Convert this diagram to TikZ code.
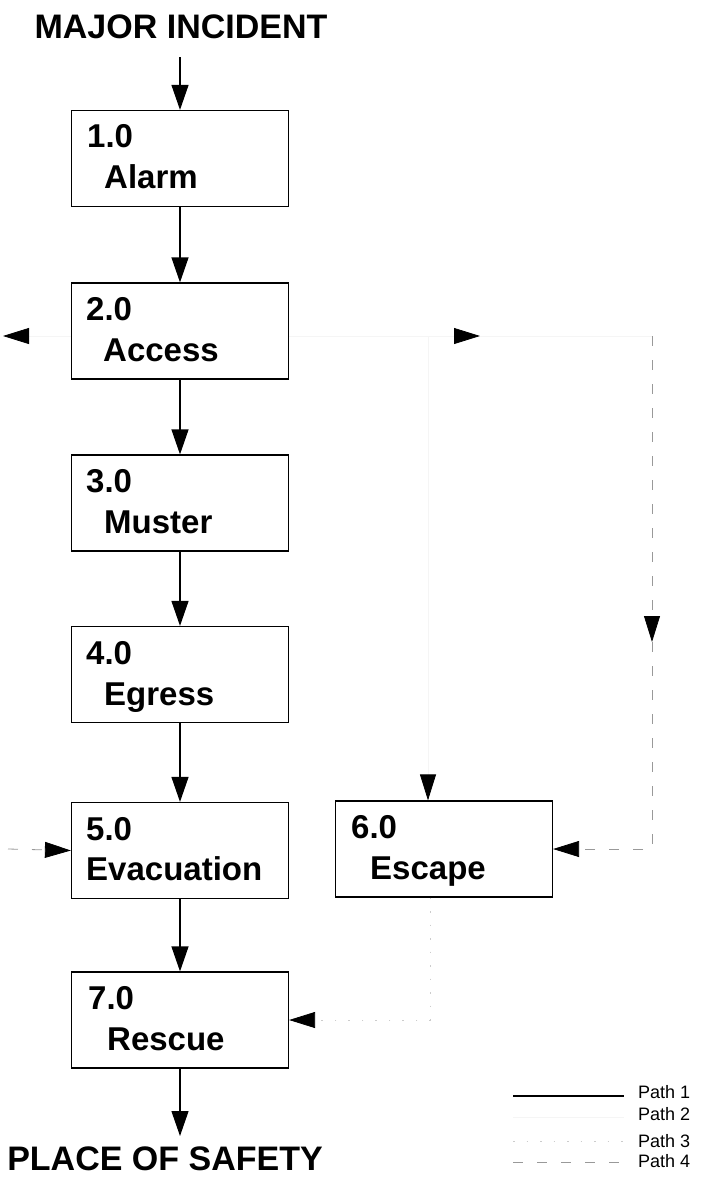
\documentclass[tikz,border=0pt]{standalone}
\usepackage{fontspec}
\setmainfont{Liberation Sans}
\usetikzlibrary{arrows.meta,calc}
\begin{document}
\begin{tikzpicture}[x=1pt,y=-1pt,
  box/.style={draw, line width=1.2pt, minimum width=217pt, minimum height=96pt, inner sep=0pt},
  num/.style={anchor=base west, inner sep=0pt, font=\bfseries\fontsize{33}{38}\selectfont},
  title/.style={anchor=base, inner sep=0pt, font=\bfseries\fontsize{34}{40}\selectfont},
  legtext/.style={anchor=base west, inner sep=0pt, font=\fontsize{18}{21}\selectfont},
  arr/.style={line width=1.2pt, -{Triangle[length=25pt,width=17pt]}},
  side/.style={-{Triangle[length=26pt,width=16pt,color=black]}},
  pathone/.style={draw=black, line width=1.2pt},
  pathtwo/.style={draw=black!4, line width=0.8pt},
  paththree/.style={draw=black!20, line width=0.8pt, dash pattern=on 1.5pt off 12pt},
  pathfour/.style={draw=black!40, line width=0.8pt, dash pattern=on 10pt off 14pt}]
\fill[white] (0,0) rectangle (713,1178);
\useasboundingbox (0,0) rectangle (713,1178);

% start and end of the sequence
\node[title] (mi) at (181,38) {MAJOR INCIDENT};
\node[title] (pos) at (165,1170) {PLACE OF SAFETY};
\coordinate (mistart) at (180,57);
\coordinate (posend) at (180,1136);

% stage boxes
\node[box] (b1) at (180,158.5) {};
\node[box] (b2) at (180,331) {};
\node[box] (b3) at (180,503) {};
\node[box] (b4) at (180,674.5) {};
\node[box] (b5) at (180,850.5) {};
\node[box] (b6) at (444,849) {};
\node[box] (b7) at (180,1020) {};

% box captions
\node[num] (n1) at (87,147) {1.0};   \node[num] (t1) at (104,188) {Alarm};
\node[num] (n2) at (86,320) {2.0};   \node[num] (t2) at (103,361) {Access};
\node[num] (n3) at (86,492) {3.0};   \node[num] (t3) at (104,533) {Muster};
\node[num] (n4) at (86,664) {4.0};   \node[num] (t4) at (104,705) {Egress};
\node[num] (n5) at (86,840) {5.0};   \node[num] (t5) at (86,880) {Evacuation};
\node[num] (n6) at (351,838) {6.0};  \node[num] (t6) at (370,879) {Escape};
\node[num] (n7) at (88,1009) {7.0};  \node[num] (t7) at (107,1050) {Rescue};

% path 1: main sequence
\draw[arr] (mistart) -- (b1.north);
\draw[arr] (b1.south) -- (b2.north);
\draw[arr] (b2.south) -- (b3.north);
\draw[arr] (b3.south) -- (b4.north);
\draw[arr] (b4.south) -- (b5.north);
\draw[arr] (b5.south) -- (b7.north);
\draw[arr] (b7.south) -- (posend);

% alternative paths
\coordinate (lft) at (3,336);
\coordinate (rmid) at (480,336);
\coordinate (rbr) at (428,336);
\coordinate (rcor) at (652,336);
\coordinate (rdn) at (652,642);
\coordinate (rlow) at (652,849);
\coordinate (lin) at (8,849);
\coordinate (bcor) at (430,1020);

\draw[pathtwo,side] ($(b2.west)+(0,5)$) -- (lft);
\draw[pathtwo,side] ($(b2.east)+(0,5)$) -- (rmid);
\draw[pathtwo] (rmid) -- (rcor);
\draw[pathtwo,side] (rbr) -- ($(b6.north)+(-16,0)$);
\draw[pathfour,side] (rcor) -- (rdn);
\draw[pathfour,side] (rdn) -- (rlow) -- (b6.east);
\draw[pathfour,side] (lin) -- (b5.west);
\draw[paththree,side] ($(b6.south)+(-14,0)$) -- (bcor) -- (b7.east);

% legend
\coordinate (l1a) at (513,1096); \coordinate (l1b) at (624,1096);
\coordinate (l2a) at (513,1117); \coordinate (l2b) at (624,1117);
\coordinate (l3a) at (513,1141); \coordinate (l3b) at (624,1141);
\coordinate (l4a) at (513,1162); \coordinate (l4b) at (624,1162);
\draw[pathone] (l1a) -- (l1b);
\draw[pathtwo] (l2a) -- (l2b);
\draw[paththree] (l3a) -- (l3b);
\draw[pathfour] (l4a) -- (l4b);
\node[legtext] (k1) at (638,1098) {Path 1};
\node[legtext] (k2) at (638,1120) {Path 2};
\node[legtext] (k3) at (638,1147) {Path 3};
\node[legtext] (k4) at (638,1167) {Path 4};
\end{tikzpicture}
\end{document}
